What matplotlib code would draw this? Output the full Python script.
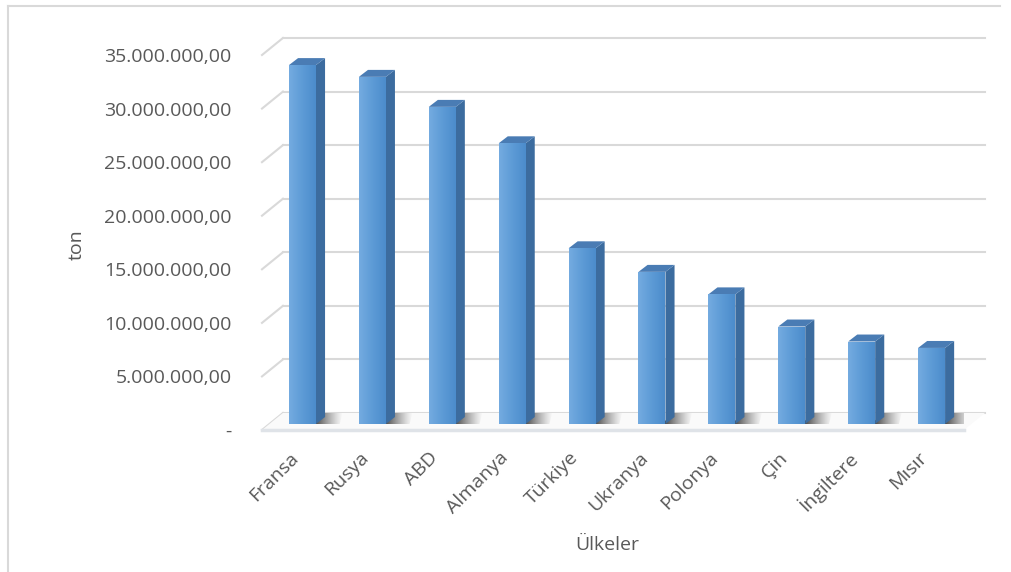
import matplotlib.pyplot as plt
import numpy as np
from matplotlib.patches import Polygon
from matplotlib.lines import Line2D
from matplotlib.colors import LinearSegmentedColormap

plt.rcParams['font.family'] = ['Open Sans', 'DejaVu Sans']

# data
countries = ["Fransa", "Rusya", "ABD", "Almanya", "Türkiye",
             "Ukranya", "Polonya", "Çin", "İngiltere", "Mısır"]
production = [33.5e6, 32.4e6, 29.6e6, 26.2e6, 16.4e6,
              14.2e6, 12.1e6, 9.1e6, 7.7e6, 7.1e6]
yticks = [0, 5e6, 10e6, 15e6, 20e6, 25e6, 30e6, 35e6]
ylabel = "ton"
xlabel = "Ülkeler"

TEXT = "#595959"
GRID = "#d9d9d9"

# fake 3d geometry (in data units)
XMIN, XMAX = -0.479, 9.564
BACK_DX, BACK_DY = 0.30, 1.59e6     # back wall offset from front plane
BAR_DX, BAR_DY = 0.10, 0.56e6       # bar front face offset
BAR_W = 0.386
SIDE_DX, SIDE_DY = 0.13, 0.65e6     # bar depth


def tr_format(v):
    if v == 0:
        return "-"
    s = f"{v:,.2f}"
    return s.replace(",", "X").replace(".", ",").replace("X", ".")


fig = plt.figure(figsize=(10.11, 5.72), dpi=100)
ax = fig.add_axes([262 / 1011, 142 / 572, 702 / 1011, 375 / 572])

# back wall + side wall gridlines
for v in yticks:
    ax.plot([XMIN + BACK_DX, XMAX + BACK_DX], [v + BACK_DY] * 2,
            color=GRID, lw=1.5, clip_on=False, zorder=1)
    ax.plot([XMIN, XMIN + BACK_DX], [v, v + BACK_DY],
            color=GRID, lw=1.5, clip_on=False, zorder=1)

# floor
floor = Polygon([(XMIN, 0), (XMAX, 0), (XMAX + BACK_DX, BACK_DY),
                 (XMIN + BACK_DX, BACK_DY)], closed=True,
                facecolor="#fafafa", edgecolor="none", zorder=1, clip_on=False)
ax.add_patch(floor)
ax.plot([XMIN, XMAX], [0, 0], color="#dfe3e8", lw=2.5, clip_on=False, zorder=2)

x = np.arange(len(countries))
bx = x + BAR_DX

# soft shadows on the floor, fading to the right of each bar
shade = np.zeros((1, 64, 4))
shade[..., :3] = 0.15
shade[0, :, 3] = np.linspace(0.95, 0.0, 64) ** 1.2
for xi in bx:
    xr = xi + BAR_W / 2
    sh = Polygon([(xr - 0.05, BAR_DY), (xr + 0.34, BAR_DY),
                  (xr + 0.38, BACK_DY), (xr + SIDE_DX - 0.02, BACK_DY)],
                 closed=True, facecolor="none", edgecolor="none")
    ax.add_patch(sh)
    im = ax.imshow(shade, extent=[xr - 0.05, xr + 0.38, BAR_DY, BACK_DY],
                   aspect="auto", zorder=2, interpolation="bilinear")
    im.set_clip_path(sh)

# bars: front face with gradient, side and top faces as polygons
bars = ax.bar(bx, production, width=BAR_W, bottom=BAR_DY,
              color="#5b9bd5", edgecolor="none", zorder=4)

grad = np.linspace(0, 1, 64).reshape(1, -1)
cmap = LinearSegmentedColormap.from_list(
    "front", ["#74abe0", "#5d9bd6", "#4c8ccc"])
for rect in bars:
    x0, y0 = rect.get_x(), rect.get_y()
    w, h = rect.get_width(), rect.get_height()
    im = ax.imshow(grad, extent=[x0, x0 + w, y0, y0 + h], cmap=cmap,
                   aspect="auto", zorder=4.5)
    im.set_clip_path(rect)

    side = Polygon([(x0 + w, y0), (x0 + w + SIDE_DX, y0 + SIDE_DY),
                    (x0 + w + SIDE_DX, y0 + h + SIDE_DY), (x0 + w, y0 + h)],
                   closed=True, facecolor="#3c6c9f", edgecolor="none", zorder=4)
    top = Polygon([(x0, y0 + h), (x0 + w, y0 + h),
                   (x0 + w + SIDE_DX, y0 + h + SIDE_DY),
                   (x0 + SIDE_DX, y0 + h + SIDE_DY)],
                  closed=True, facecolor="#4a7cb4", edgecolor="none", zorder=4)
    ax.add_patch(side)
    ax.add_patch(top)

ax.set_xlim(XMIN, XMAX)
ax.set_ylim(0, 35e6)

ax.set_yticks(yticks, [tr_format(v) for v in yticks])
ax.set_xticks(x, countries, rotation=45, ha="right", rotation_mode="anchor")
ax.tick_params(axis="y", length=0, pad=22, labelsize=14, labelcolor=TEXT)
ax.tick_params(axis="x", length=0, pad=18, labelsize=14, labelcolor=TEXT)
for lbl in ax.get_xticklabels():
    lbl.set_verticalalignment("center")
for s in ax.spines.values():
    s.set_visible(False)
ax.patch.set_visible(False)

fig.text(77 / 1011, 1 - 245 / 572, ylabel, rotation=90, ha="center",
         va="center", fontsize=14, color=TEXT)
fig.text(607 / 1011, 1 - 545 / 572, xlabel, ha="center", va="center",
         fontsize=14, color=TEXT)

# chart area border (left and top edges visible in the reference)
fig.add_artist(Line2D([8 / 1011, 8 / 1011], [0, 1 - 6 / 572],
                      color=GRID, lw=1.5, transform=fig.transFigure))
fig.add_artist(Line2D([8 / 1011, 1000 / 1011], [1 - 6 / 572, 1 - 6 / 572],
                      color=GRID, lw=1.5, transform=fig.transFigure))

fig.savefig("out.png", dpi=100)
